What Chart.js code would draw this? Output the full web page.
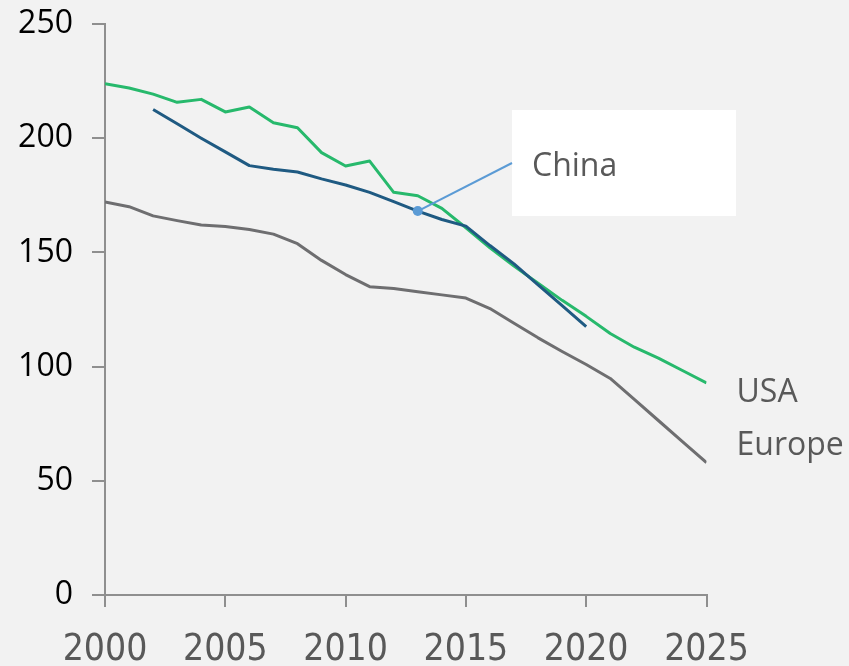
<!DOCTYPE html>
<html>
<head>
<meta charset="utf-8">
<script src="https://cdn.jsdelivr.net/npm/chart.js@4.4.1/dist/chart.umd.min.js"></script>
<style>
  html, body { margin: 0; padding: 0; background: #f2f2f2; }
  #wrap { width: 849px; height: 666px; }
</style>
</head>
<body>
<div id="wrap"><canvas id="c" width="849" height="666"></canvas></div>
<script>
// Years on the horizontal axis
const years = [2000, 2001, 2002, 2003, 2004, 2005, 2006, 2007, 2008, 2009,
               2010, 2011, 2012, 2013, 2014, 2015, 2016, 2017, 2018, 2019,
               2020, 2021, 2022, 2023, 2024, 2025];

// Series values per year (null = no data)
const usaValues = [223.8, 222.0, 219.3, 215.7, 217.0, 211.5, 213.7, 206.8, 204.6, 193.7,
                   187.8, 190.0, 176.3, 174.8, 169.3, 160.8, 152.0, 144.0, 136.5, 129.0,
                   122.0, 114.5, 108.5, 103.7, 98.3, 92.8];
const chinaValues = [null, null, 212.6, 206.3, 200.0, 194.0, 188.0, 186.4, 185.2, 182.2,
                     179.5, 176.3, 172.2, 168.1, 164.4, 161.5, 153.0, 145.0, 135.8, 126.7,
                     117.5, null, null, null, null, null];
const europeValues = [172.1, 170.0, 166.0, 163.9, 162.0, 161.3, 160.0, 158.0, 153.8, 146.5,
                      140.3, 135.0, 134.2, 132.8, 131.4, 130.0, 125.4, 119.0, 112.6, 106.6,
                      100.9, 94.8, 85.6, 76.4, 67.2, 58.0];

// Axis tick values
const xTickValues = [2000, 2005, 2010, 2015, 2020, 2025];
const yTickValues = [0, 50, 100, 150, 200, 250];

// Year whose China value carries the callout
const chinaCalloutYear = 2013;

const toPoints = (vals) => years.map((yr, i) => ({ x: yr, y: vals[i] }));

const AXIS_GREY = '#8f8f8f';
const TEXT_GREY = '#595959';

// Series name labels at the right end of the USA and Europe lines, plus the China callout
const labelsPlugin = {
  id: 'seriesLabels',
  afterDatasetsDraw(chart) {
    const { ctx, chartArea, scales } = chart;
    const xs = scales.x, ys = scales.y;
    ctx.save();
    ctx.font = '32px "Open Sans", "DejaVu Sans", sans-serif';
    ctx.fillStyle = TEXT_GREY;
    ctx.textAlign = 'left';
    ctx.textBaseline = 'alphabetic';

    const last = years.length - 1;
    const usaEnd = ys.getPixelForValue(usaValues[last]);
    const eurEnd = ys.getPixelForValue(europeValues[last]);
    ctx.fillText(chart.data.datasets[1].label, chartArea.right + 30, usaEnd + 19);
    ctx.fillText(chart.data.datasets[2].label, chartArea.right + 30, eurEnd - 8);

    // China callout: white box with a leader line back to the series
    const box = { left: 512, top: 110, width: 224, height: 106 };
    const idx = years.indexOf(chinaCalloutYear);
    const px = xs.getPixelForValue(chinaCalloutYear);
    const py = ys.getPixelForValue(chinaValues[idx]);

    ctx.fillStyle = '#ffffff';
    ctx.fillRect(box.left, box.top, box.width, box.height);

    ctx.strokeStyle = '#5b9bd5';
    ctx.lineWidth = 2;
    ctx.beginPath();
    ctx.moveTo(px, py);
    ctx.lineTo(box.left, box.top + 53);
    ctx.stroke();

    ctx.fillStyle = '#5b9bd5';
    ctx.beginPath();
    ctx.arc(px, py, 5, 0, Math.PI * 2);
    ctx.fill();

    ctx.fillStyle = TEXT_GREY;
    ctx.fillText(chart.data.datasets[0].label, box.left + 20, box.top + 66);
    ctx.restore();
  }
};

new Chart(document.getElementById('c'), {
  type: 'line',
  data: {
    datasets: [
      { label: 'China',  data: toPoints(chinaValues),  borderColor: '#1f5a82', order: 0 },
      { label: 'USA',    data: toPoints(usaValues),    borderColor: '#27b96c', order: 1 },
      { label: 'Europe', data: toPoints(europeValues), borderColor: '#6e6e70', order: 2 }
    ]
  },
  options: {
    responsive: false,
    animation: false,
    events: [],
    layout: { padding: { top: 24, left: 0, right: 142.5, bottom: 0 } },
    elements: {
      line: { borderWidth: 3, tension: 0, fill: false, borderJoinStyle: 'round' },
      point: { radius: 0 }
    },
    plugins: { legend: { display: false }, tooltip: { enabled: false } },
    scales: {
      x: {
        type: 'linear',
        min: 2000,
        max: 2025,
        afterFit: (s) => { s.height = 71; s.paddingLeft = 0; s.paddingRight = 0; },
        afterBuildTicks: (s) => { s.ticks = xTickValues.map(v => ({ value: v })); },
        grid: { drawOnChartArea: false, drawTicks: true, tickLength: 12, color: AXIS_GREY, lineWidth: 2 },
        border: { display: true, color: AXIS_GREY, width: 2 },
        ticks: {
          padding: 21,
          color: TEXT_GREY,
          font: { family: '"Liberation Sans Narrow", "DejaVu Sans Condensed", sans-serif', size: 37 },
          maxRotation: 0,
          callback: (v) => String(v)
        }
      },
      y: {
        type: 'linear',
        min: 0,
        max: 250,
        afterFit: (s) => { s.width = 105; s.paddingTop = 0; s.paddingBottom = 0; },
        afterBuildTicks: (s) => { s.ticks = yTickValues.map(v => ({ value: v })); },
        grid: { drawOnChartArea: false, drawTicks: true, tickLength: 13, color: AXIS_GREY, lineWidth: 2 },
        border: { display: true, color: AXIS_GREY, width: 2 },
        ticks: {
          padding: 19,
          color: '#000000',
          font: { family: '"Open Sans", sans-serif', size: 32 },
          callback: (v) => String(v)
        }
      }
    }
  },
  plugins: [labelsPlugin]
});
</script>
</body>
</html>
